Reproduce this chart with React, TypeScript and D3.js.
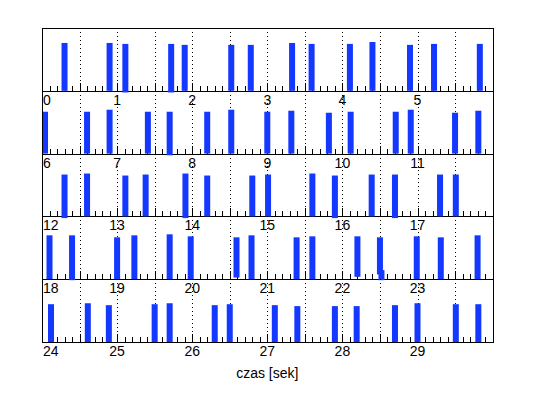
import * as d3 from 'd3';

// beat times [s], amplitudes and bar bases (arbitrary units)
const beatTimes = [
  0.30, 0.90, 1.11, 1.72, 1.90, 2.52, 2.78, 3.33, 3.59, 4.10, 4.40, 4.90, 5.22, 5.83,
  6.04, 6.60, 6.90, 7.41, 7.70, 8.20, 8.52, 9.00, 9.32, 9.82, 10.11, 10.71, 10.91, 11.50, 11.81,
  12.30, 12.60, 13.11, 13.38, 13.91, 14.20, 14.80, 15.01, 15.60, 15.90, 16.39, 16.70, 17.30, 17.51,
  18.10, 18.40, 19.00, 19.23, 19.70, 19.98, 20.59, 20.79, 21.39, 21.60, 22.20, 22.50, 22.52, 22.99, 23.31, 23.80,
  24.12, 24.61, 24.89, 25.50, 25.70, 26.30, 26.50, 27.10, 27.40, 27.90, 28.19, 28.70, 29.00, 29.51, 29.81,
];
const beatAmps = [
  1.00, 1.00, 0.98, 0.98, 0.96, 0.96, 0.96, 1.00, 0.98, 0.98, 1.02, 0.96, 0.98, 0.98,
  0.875, 0.875, 0.917, 0.875, 0.875, 0.875, 0.917, 0.875, 0.896, 0.854, 0.875, 0.875, 0.917, 0.854, 0.896,
  0.875, 0.896, 0.854, 0.875, 0.896, 0.854, 0.854, 0.875, 0.896, 0.854, 0.875, 0.875, 0.875, 0.875,
  0.917, 0.917, 0.875, 0.917, 0.938, 0.896, 0.875, 0.917, 0.875, 0.896, 0.896, 0.875, 0.19, 0.896, 0.875, 0.917,
  0.79, 0.81, 0.77, 0.79, 0.81, 0.77, 0.79, 0.77, 0.75, 0.75, 0.75, 0.77, 0.81, 0.79, 0.79,
];
const beatBases = [
  0, 0, -0.035, -0.035, 0, 0, 0, 0, 0, 0, 0, 0, 0, 0,
  0, 0, 0, 0, -0.035, 0, 0, 0, 0, 0, 0, 0, 0, 0, 0,
  -0.035, 0, 0, 0, -0.035, 0, 0, 0, 0, -0.035, 0, -0.035, 0, 0,
  0, -0.02, 0, 0, 0, 0, 0.035, 0, 0, 0, 0.05, 0.10, -0.02, 0, 0, 0,
  0, 0, 0, 0, 0, 0, 0, 0, 0, 0, 0, 0, 0, 0, 0,
];

const rows = [0, 1, 2, 3, 4];
const rowSpan = 6; // seconds per row
const xLabel = 'czas [sek]';

const W = 538;
const H = 398;
const left = 42;
const right = 492.6;
const top = 28;
const bottom = 342;
const barColor = '#1438ff';
const font = 'Liberation Sans, Arial, Helvetica, sans-serif';

export default function App() {
  const x = d3.scaleLinear().domain([0, rowSpan]).range([left, right]);
  const rowY = d3.scaleLinear().domain([0, rows.length]).range([top, bottom]);
  const barW = x(0.08) - x(0);

  const ticks = d3.range(0, rowSpan * 10 + 1).map((i) => ({ v: i / 10, major: i % 5 === 0 }));
  const grid = d3.range(1, rowSpan * 2).map((i) => i / 2);
  const labels = d3.range(0, rowSpan);

  return (
    <svg
      width={W}
      height={H}
      style={{ position: 'absolute', left: 0, top: 0, background: '#fff' }}
      fontFamily={font}
    >
      {rows.map((r) => {
        const y0 = rowY(r);
        const y1 = rowY(r + 1);
        const y = d3.scaleLinear().domain([0, 63 / 48]).range([y1, y0]);
        const beats = beatTimes
          .map((t, i) => ({ t, a: beatAmps[i], b: beatBases[i] }))
          .filter((d) => d.t >= r * rowSpan && d.t < (r + 1) * rowSpan);
        return (
          <g key={r}>
            {grid.map((g) => (
              <line
                key={'g' + g}
                x1={Math.round(x(g)) + 0.5}
                x2={Math.round(x(g)) + 0.5}
                y1={y0}
                y2={y1}
                stroke="#000"
                strokeDasharray="1,3"
                shapeRendering="crispEdges"
              />
            ))}
            {ticks.map((tk) => (
              <line
                key={'t' + tk.v}
                x1={Math.round(x(tk.v)) + 0.5}
                x2={Math.round(x(tk.v)) + 0.5}
                y1={y1}
                y2={y1 - (tk.major ? 8 : 5)}
                stroke="#000"
                shapeRendering="crispEdges"
              />
            ))}
            <line x1={left} x2={right} y1={Math.round(y1) + 0.5} y2={Math.round(y1) + 0.5} stroke="#000" shapeRendering="crispEdges" />
            {beats.map((d, i) => (
              <rect
                key={i}
                x={x(d.t - r * rowSpan) - barW / 2}
                width={barW}
                y={y(d.a)}
                height={y(d.b) - y(d.a)}
                fill={barColor}
              />
            ))}
            {labels.map((l) => (
              <text
                key={'l' + l}
                x={l === 0 ? left + 1 : x(l)}
                y={y1 + 14}
                textAnchor={l === 0 ? 'start' : 'middle'}
                fontSize={14}
                fill="#000"
              >
                {r * rowSpan + l}
              </text>
            ))}
          </g>
        );
      })}
      <rect x={left + 0.5} y={top + 0.5} width={right - left} height={bottom - top} fill="none" stroke="#000" shapeRendering="crispEdges" />
      <text x={(left + right) / 2} y={378} textAnchor="middle" fontSize={14} fill="#000">
        {xLabel}
      </text>
    </svg>
  );
}
